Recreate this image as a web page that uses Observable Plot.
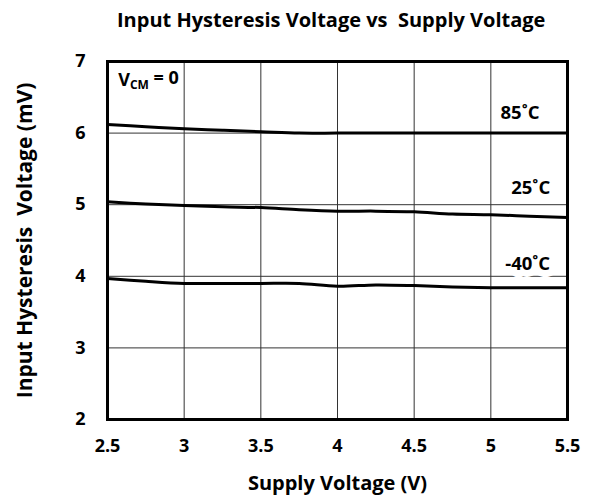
<!DOCTYPE html>
<html><head><meta charset="utf-8">
<script src="https://cdn.jsdelivr.net/npm/d3@7"></script>
<script src="https://cdn.jsdelivr.net/npm/@observablehq/plot@0.6"></script>
<style>
body{margin:0;background:#fff;font-family:"Open Sans",sans-serif;}
#title{height:45px;line-height:40px;font-weight:bold;font-size:20px;color:#000;padding-left:117px;white-space:pre;}
</style></head><body>
<div id="title">Input Hysteresis Voltage vs  Supply Voltage</div>
<div id="chart"></div>
<script>
const supply = [2.5, 2.75, 3, 3.25, 3.5, 3.75, 4, 4.25, 4.5, 4.75, 5, 5.25, 5.5];
const hyst85 = [6.12, 6.09, 6.06, 6.04, 6.02, 6.00, 6.00, 6.00, 6.00, 6.00, 6.00, 6.00, 6.00];
const hyst25 = [5.04, 5.01, 4.99, 4.97, 4.96, 4.93, 4.91, 4.91, 4.90, 4.87, 4.86, 4.84, 4.82];
const hystM40 = [3.97, 3.93, 3.90, 3.90, 3.90, 3.90, 3.86, 3.88, 3.87, 3.85, 3.84, 3.84, 3.84];
const seriesNames = ["85˚C", "25˚C", "-40˚C"];
const labelX = [5.19, 5.26, 5.24];
const labelY = [6.28, 5.23, 4.17];
const xTicks = [2.5, 3, 3.5, 4, 4.5, 5, 5.5];
const yTicks = [2, 3, 4, 5, 6, 7];
const noteText = "VCM = 0";

const allSeries = [hyst85, hyst25, hystM40];
const rows = [];
allSeries.forEach((vals, i) => vals.forEach((v, j) => rows.push({series: seriesNames[i], x: supply[j], y: v})));
const labels = seriesNames.map((s, i) => ({s, x: labelX[i], y: labelY[i]}));

const plot = Plot.plot({
  width: 589, height: 459,
  marginTop: 16, marginBottom: 85, marginLeft: 107, marginRight: 22,
  style: {fontFamily: "'Open Sans', sans-serif", fontSize: "18px", fontWeight: "bold", color: "#000", background: "#fff"},
  x: {domain: [2.5, 5.5], ticks: xTicks, tickFormat: d => String(d), tickSize: 0, tickPadding: 20,
      label: "Supply Voltage (V)", labelAnchor: "center", labelArrow: "none", labelOffset: 70},
  y: {domain: [2, 7], ticks: yTicks, tickFormat: d => String(d), tickSize: 0, tickPadding: 22,
      label: "Input Hysteresis  Voltage (mV)", labelAnchor: "center", labelArrow: "none", labelOffset: 90},
  marks: [
    Plot.gridX(xTicks, {stroke: "#333", strokeOpacity: 1, strokeWidth: 1}),
    Plot.gridY(yTicks, {stroke: "#333", strokeOpacity: 1, strokeWidth: 1}),
    Plot.line(rows, {x: "x", y: "y", z: "series", stroke: "#000", strokeWidth: 3, curve: "catmull-rom"}),
    Plot.text(labels, {x: "x", y: "y", text: "s", fill: "#000", fontSize: 18.5, fontWeight: "bold", stroke: "white", strokeWidth: 14, paintOrder: "stroke"}),
    Plot.text([noteText], {x: [2.57], y: [6.74], text: d => d, textAnchor: "start", fontSize: 18, fontWeight: "bold", fill: "#000", stroke: "white", strokeWidth: 6, paintOrder: "stroke", className: "vcm"}),
    Plot.frame({stroke: "#000", strokeWidth: 3})
  ]
});
document.getElementById("chart").appendChild(plot);
// axis-label sizes
d3.select(plot).selectAll("g[aria-label='y-axis label'] text, g[aria-label='x-axis label'] text").attr("font-size", function() {
  return this.closest("g").getAttribute("aria-label").startsWith("y") ? 21 : 20;
});
// subscript for V_CM
d3.select(plot).selectAll("g.vcm text").each(function() {
  const t = d3.select(this);
  t.text(null);
  t.append("tspan").text("V");
  t.append("tspan").attr("dy", "0.3em").attr("font-size", "12").text("CM");
  t.append("tspan").attr("dy", "-0.3em").text(" = 0");
});
</script>
</body></html>
